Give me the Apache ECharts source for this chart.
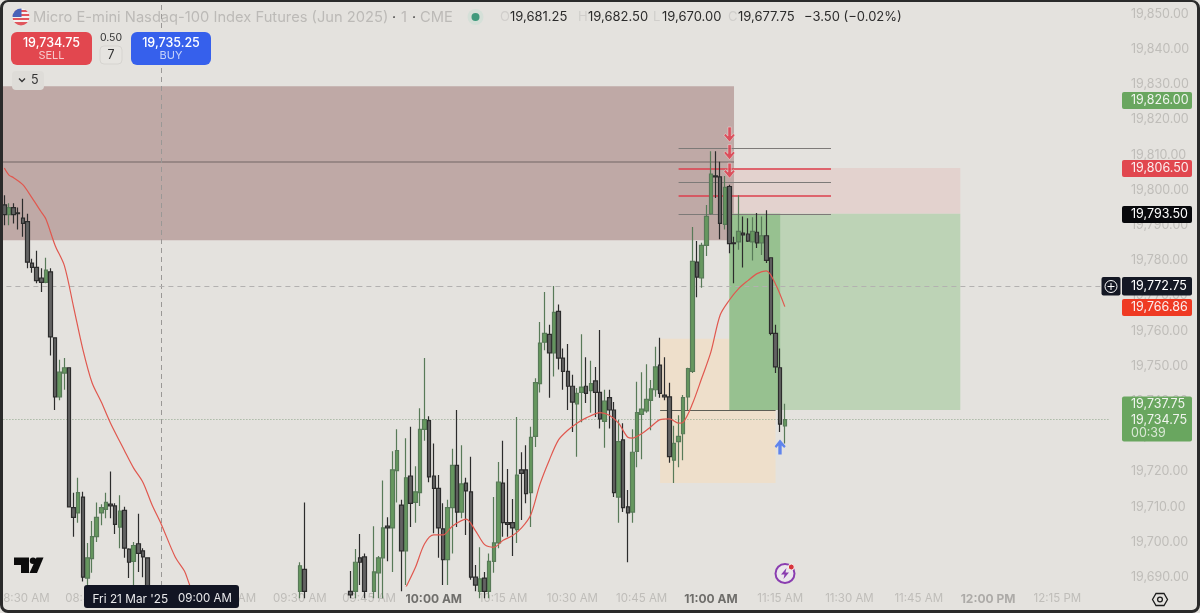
<!DOCTYPE html>
<html>
<head>
<meta charset="utf-8">
<title>MNQ 1m</title>
<script src="https://cdn.jsdelivr.net/npm/echarts@6/dist/echarts.min.js"></script>
<style>
  html, body { margin: 0; padding: 0; background: #000; }
  #chart { position: absolute; left: 0; top: 0; width: 1200px; height: 613px; }
  #frame { position: absolute; left: 0; top: 0; width: 1194px; height: 608px; border-style: solid; border-color: #2a2a2a; border-width: 2px 3px 3px 3px; border-radius: 8px; pointer-events: none; }
</style>
</head>
<body>
<div id="chart"></div>
<div id="frame"></div>
<script>
// tick labels
const tickIndex = [5, 20, 35, 50, 65, 80, 94, 109, 124, 139, 154, 169, 184, 199, 214, 229];
const tickLabels = ['08:30 AM', '08:45 AM', '09:00 AM', '09:15 AM', '09:30 AM', '09:45 AM', '10:00 AM', '10:15 AM', '10:30 AM', '10:45 AM', '11:00 AM', '11:15 AM', '11:30 AM', '11:45 AM', '12:00 PM', '12:15 PM'];
const priceTicks = [19690, 19700, 19710, 19720, 19730, 19740, 19750, 19760, 19770, 19780, 19790, 19800, 19810, 19820, 19830, 19840, 19850];

// candles, 10 per row. null = bar is below the visible range
const opens = [
  19795.75,19793,19795,19793.5,19792,19791,19779.25,19778,19775,19773.75,
  19776.75,19758,19741.25,19748,19749.5,19709.75,19708.25,19712.75,19689.75,19695.25,
  19701.5,19708.25,19709.25,19710.75,19710.25,19704.25,19709,19698,19694.5,19699.5,
  19697.5,19695.5,null,null,null,null,null,null,null,null,
  null,null,null,null,null,null,null,null,null,null,
  null,null,null,null,null,null,null,null,null,null,
  null,null,null,null,19686,19692.25,null,null,null,null,
  null,null,null,null,null,19686,19686,19695.5,19695.75,null,
  19686,19691.25,19695.5,19704.5,19704,19720.25,19710.5,19697.5,19718.75,19711.25,
  19714,19732,19734.5,19718.75,19715.25,19703.75,19695,19709.75,19721.75,19708.5,
  19716.75,19714.25,19690,19686,19689.75,19686,19694.5,19699.75,19716.75,19705.5,
  19705.5,19703.5,19720.5,19720.5,19714,19730,19745,19756.75,19759,19753.75,
  19765.5,19752.25,19748.5,19744.25,19739.25,19742.5,19744.25,19743,19745.75,19742.5,
  19734.25,19741,19737.5,19712.75,19729,19710,19708.5,19725.75,19736.25,19737.25,
  19740.25,19743.25,19750.25,19741.75,19741.25,19723.25,19728.5,19730.75,19741.25,19748.5,
  19779.5,19775,19784.25,19793.25,19804,19803.75,19790.25,19801,19785,19785.25,
  19787.75,19787.5,19785.25,19788,19785,19787,19780.75,19759.25,19749.5,19733
];
const closes = [
  19793,19795,19793,19793.25,19790.5,19779.5,19778,19774.25,19773.75,19777.25,
  19758.25,19741.25,19748.25,19749.5,19710,19707,19714,19690,19695.5,19701.5,
  19707,19709.75,19711.25,19710.25,19705,19708.75,19698.25,19694.25,19699,19696.75,
  19695.75,19686,null,null,null,null,null,null,null,null,
  null,null,null,null,null,null,null,null,null,null,
  null,null,null,null,null,null,null,null,null,null,
  null,null,null,null,19693.25,19686,null,null,null,null,
  null,null,null,null,null,19685,19694.25,19694.25,19686,null,
  19691.5,19695.5,19704,19704,19720.5,19726,19697.5,19718.25,19711,19714.25,
  19732,19734.75,19718.5,19715.25,19704,19695,19709.75,19721.75,19708.5,19716.5,
  19714.5,19690,19687.75,19689.5,19686,19694.5,19699.75,19717,19705.5,19705,
  19704,19719,19719.5,19713.75,19729.75,19745.25,19756.5,19759.25,19753.75,19765.25,
  19752.25,19748.5,19744.25,19739.75,19742.25,19744,19742.25,19745,19742.5,19735,
  19740,19737.5,19714,19728.5,19709.75,19708.25,19725.5,19736.75,19737.75,19740.5,
  19743.5,19749.75,19742.25,19741.25,19724.25,19728,19730,19741,19749.25,19779.75,
  19775.25,19784.25,19792.5,19804.5,19803.75,19790.5,19800.75,19784.75,19784.75,19788.25,
  19787.25,19785.5,19788.25,19785,19787,19780,19759.25,19749.75,19733.5,19734.75
];
const lows = [
  19790,19790,19790.5,19788.75,19786.75,19777.75,19776.5,19773.5,19771,19773.5,
  19753,19737.5,19740.25,19743.25,19710,19701.5,19705.5,19688.75,19686,19691.25,
  19700,19704.75,19706.75,19706.75,19702.25,19698.25,19695.5,19689.75,19686,19691.5,
  19690,19686,null,null,null,null,null,null,null,null,
  null,null,null,null,null,null,null,null,null,null,
  null,null,null,null,null,null,null,null,null,null,
  null,null,null,null,19684,19684,null,null,null,null,
  null,null,null,null,null,19684,19684,19687.75,19684,null,
  19684,19684,19684,19694.5,19691.5,19711.25,19686,19687.75,19704.25,19705.5,
  19710.25,19728.75,19717,19702.5,19695.5,19687.75,19687.75,19696.75,19704.25,19706.75,
  19702,19689.25,19686,19684,19684,19684,19691.25,19698.25,19701.5,19701.5,
  19696,19699.75,19706.25,19711,19704.25,19727,19742.5,19754.5,19741,19747,
  19749,19743.25,19737.5,19731.25,19724.25,19734,19739.5,19736.75,19735.5,19732.25,
  19726.75,19732.25,19712.75,19705.5,19708.5,19694.25,19705.5,19721.25,19723.5,19736.75,
  19731.75,19741.25,19741,19740.25,19722.5,19716.75,19721.25,19723.25,19737.5,19748,
  19769.5,19772.25,19781.25,19793,19797.75,19786,19788.75,19782,19773.5,19783,
  19778,19785.25,19780,19783.5,19781.5,19779.25,19758.75,19748,19731.25,19728
];
const highs = [
  19798.5,19796.25,19796.25,19795,19797.5,19793.25,19780.5,19782.75,19777.75,19780.75,
  19777.75,19758,19751.75,19752.25,19749.5,19714,19718.25,19714.25,19699.75,19706,
  19711.25,19710.75,19714,19720,19711,19713.25,19710,19698.25,19700,19708,
  19698.25,19695.5,null,null,null,null,null,null,null,null,
  null,null,null,null,null,null,null,null,null,null,
  null,null,null,null,null,null,null,null,null,null,
  null,null,null,null,19694.25,19711.25,null,null,null,null,
  null,null,null,null,null,19691.75,19698,19702.25,19696.75,null,
  19704.5,19696,19717.5,19707,19725.75,19732,19712,19729.5,19732.75,19721.5,
  19738,19752.25,19735.75,19728,19719,19711,19712,19726.5,19737.5,19727.5,
  19718.25,19724.25,19693.5,19698.5,19691.5,19696.75,19712.75,19722.75,19728.75,19720.75,
  19712.25,19735.5,19725.5,19727.5,19732.75,19746.5,19762.5,19771,19761.75,19772.75,
  19767.5,19755,19756.25,19747.5,19743.75,19759,19752.5,19751.5,19749.75,19760.25,
  19743.25,19743.25,19739.75,19734.75,19733.75,19714.75,19732,19745.5,19748.25,19750.5,
  19746,19755.5,19758,19752.5,19745.25,19733,19736,19741.75,19749.5,19789.5,
  19785.5,19785,19795.75,19811,19811,19808,19804,19801.5,19786.75,19798.5,
  19792.5,19792,19792.25,19793.5,19792.5,19794.25,19780.75,19761.75,19755,19739.25
];

// red moving average, chart index + price
const maIndex = [1, 2, 3, 5, 7, 9, 10, 12, 14, 16, 18, 20, 22, 24, 27, 29, 31, 33, 35, 38, 40, 41, 43,
  86, 88, 90, 92, 94, 96, 98, 101, 103, 105, 107, 109, 111, 113, 115, 117, 119, 121, 123, 125, 127, 130, 132, 134, 136, 137, 139, 141, 143, 145, 147, 148, 150, 152, 154, 156, 158, 160, 162, 164, 166, 168, 170];
const maValues = [19806.25, 19804.25, 19803.5, 19801.5, 19797.75, 19793.75, 19791.75, 19784.25, 19778.5, 19766.75, 19754.75, 19745.25, 19739.75, 19733.75, 19726, 19721, 19717, 19710.5, 19705, 19695.75, 19691.75, 19688.25, 19682,
  19682, 19687.25, 19692.75, 19699.5, 19702, 19702, 19704.5, 19706.5, 19703.25, 19699.25, 19698.5, 19700.5, 19701.75, 19704, 19707.75, 19716.5, 19723.25, 19729, 19731.75, 19733.75, 19735.25, 19736.75, 19736, 19733.75, 19729.75, 19729.5, 19730.75, 19732.75, 19734.75, 19735, 19733.75, 19734, 19739.25, 19746.5, 19754, 19764.5, 19768.75, 19772, 19774.25, 19776.25, 19777, 19773.25, 19766.86];

// price levels
const crossPrice = 19772.75;
const crossIndex = 35;
const lastPrice = 19734.75;
const shortLevelsGrey = [19811.75, 19802.25, 19793];
const shortLevelsRed = [19806, 19798.5];
const redArrowIndex = [158, 158, 158];
const redArrowPrice = [19815.75, 19810.75, 19805.5];
const blueArrowIndex = [169];
const blueArrowPrice = [19727];

const categories = [];
for (let i = 0; i < 241; i++) categories.push('');
tickIndex.forEach((n, i) => { categories[n] = tickLabels[i]; });

const candleData = [['-', '-', '-', '-']];
opens.forEach((o, i) => {
  candleData.push(o === null ? ['-', '-', '-', '-'] : [o, closes[i], lows[i], highs[i]]);
});

const font = 'Inter, "Liberation Sans", sans-serif';

// drawing helpers for the header and price tags
function box(x, y, w, h, fill, r) {
  return { type: 'rect', z: 100, silent: true, shape: { x: x, y: y, width: w, height: h, r: r || 0 }, style: { fill: fill } };
}
function txt(x, y, text, fill, size, align, weight) {
  return { type: 'text', z: 101, silent: true, x: x, y: y, style: { text: text, fill: fill, font: (weight || 'normal') + ' ' + size + 'px ' + font, textAlign: align || 'left', textVerticalAlign: 'middle' } };
}
function poly(points, fill, stroke, lw) {
  return { type: 'polygon', z: 101, silent: true, shape: { points: points }, style: { fill: fill || 'none', stroke: stroke || 'none', lineWidth: lw || 1 } };
}
function circ(x, y, r, fill, stroke, lw) {
  return { type: 'circle', z: 101, silent: true, shape: { cx: x, cy: y, r: r }, style: { fill: fill || 'none', stroke: stroke || 'none', lineWidth: lw || 1 } };
}
function seg(x1, y1, x2, y2, stroke, lw) {
  return { type: 'line', z: 102, silent: true, shape: { x1: x1, y1: y1, x2: x2, y2: y2 }, style: { stroke: stroke, lineWidth: lw || 1 } };
}

const flagSvg = '<svg xmlns="http://www.w3.org/2000/svg" width="18" height="18" viewBox="0 0 18 18"><clipPath id="c"><circle cx="9" cy="9" r="8.5"/></clipPath><g clip-path="url(#c)"><rect width="18" height="18" fill="#f4f2f0"/><rect y="2" width="18" height="2" fill="#e0565c"/><rect y="6" width="18" height="2" fill="#e0565c"/><rect y="10" width="18" height="2" fill="#e0565c"/><rect y="14" width="18" height="4" fill="#e0565c"/><rect width="9.5" height="9" fill="#4a62b8"/></g></svg>';

const graphics = [
  // top left legend
  { type: 'image', z: 101, silent: true, x: 12, y: 8, style: { image: 'data:image/svg+xml;utf8,' + encodeURIComponent(flagSvg), width: 18, height: 18 } },
  txt(33, 17.5, 'Micro E-mini Nasdaq-100 Index Futures (Jun 2025)', '#bcbab7', 14.7),
  txt(392, 17.5, '·', '#333333', 14), txt(401, 17.5, '1', '#bcbab7', 14.7),
  txt(412, 17.5, '·', '#333333', 14), txt(420, 17.5, 'CME', '#bcbab7', 14.7),
  circ(475.5, 17, 8, '#d5e0d8'), circ(475.5, 17, 4, '#3f9a7c'),
  txt(500, 17.5, 'O', '#d0cecb', 13), txt(510, 17.5, '19,681.25', '#2b2b2b', 13),
  txt(578, 17.5, 'H', '#d0cecb', 13), txt(588, 17.5, '19,682.50', '#2b2b2b', 13),
  txt(653, 17.5, 'L', '#d0cecb', 13), txt(662, 17.5, '19,670.00', '#2b2b2b', 13),
  txt(728, 17.5, 'C', '#d0cecb', 13), txt(738, 17.5, '19,677.75', '#2b2b2b', 13),
  txt(804, 17.5, '−3.50 (−0.02%)', '#2b2b2b', 13),
  // sell / buy
  box(11, 32, 81, 33, '#e2474f', 6),
  txt(51.5, 43, '19,734.75', '#ffffff', 12.5, 'center', '500'), txt(51.5, 56, 'SELL', '#f6c9cb', 11, 'center'),
  txt(111, 38, '0.50', '#333333', 10.5, 'center'),
  { type: 'rect', z: 100, silent: true, shape: { x: 100, y: 46, width: 22, height: 18, r: 4 }, style: { fill: '#e6e4e0', stroke: '#d6d4d0' } },
  txt(111, 55, '7', '#333333', 12.5, 'center'),
  box(131, 32, 80, 33, '#3660ec', 6),
  txt(171, 43, '19,735.25', '#ffffff', 12.5, 'center', '500'), txt(171, 56, 'BUY', '#c6d2fa', 11, 'center'),
  // collapse chip
  box(12, 71, 32, 19, '#dedcd8', 4),
  { type: 'polyline', z: 101, silent: true, shape: { points: [[19, 78.5], [22, 81.5], [25, 78.5]] }, style: { fill: 'none', stroke: '#333333', lineWidth: 1.3 } },
  txt(31, 80.5, '5', '#333333', 12.5),
  // right side price tags
  box(1122, 92, 70, 17, '#69a65f', 2), txt(1131, 100.5, '19,826.00', '#f0f4ee', 12.5),
  box(1122, 160, 70, 17, '#e1474f', 2), txt(1131, 168.5, '19,806.50', '#fbeeee', 12.5),
  box(1122, 206, 70, 17, '#08090c', 2), txt(1131, 214.5, '19,793.50', '#ffffff', 12.5),
  box(1101.5, 277, 19, 18.5, '#141824', 2), box(1122, 277, 70, 18.5, '#141824', 2),
  txt(1131, 286.5, '19,772.75', '#ffffff', 12.5),
  circ(1111, 286.5, 6, 'none', '#ffffff', 1), seg(1111, 283, 1111, 290, '#ffffff'), seg(1107.5, 286.5, 1114.5, 286.5, '#ffffff'),
  box(1122, 299, 70, 17, '#ef3a23', 2), txt(1131, 307.5, '19,766.86', '#fbeeee', 12.5),
  box(1122, 396.5, 70, 45, '#69a65f', 2),
  txt(1131, 404.5, '19,737.75', '#f0f4ee', 12.5), txt(1131, 420, '19,734.75', '#f0f4ee', 12.5), txt(1131, 433.5, '00:39', '#d9e8d5', 12.5),
  // crosshair time label
  box(84, 585, 155, 23, '#121523', 3),
  txt(92.5, 599, "Fri 21 Mar '25", '#e8e8ea', 11.8), txt(178, 599, '09:00 AM', '#e8e8ea', 11.5),
  // TradingView logo
  poly([[14, 557.5], [29, 557.5], [29, 573], [21, 573], [21, 565], [14, 565]], '#0c0c0c'),
  circ(33, 560.8, 3.2, '#0c0c0c'),
  poly([[36.5, 557.5], [43.5, 557.5], [37, 573], [29.5, 573]], '#0c0c0c'),
  // lightning badge
  circ(785, 573.5, 9.5, '#ebe7ec', '#8a3db0', 2),
  poly([[786.5, 568], [781, 574.5], [784.5, 574.5], [783.5, 579], [789, 572.5], [785.5, 572.5]], '#8a3db0'),
  circ(791.3, 567, 3, '#d8343c', '#f4f2f0', 1),
  // settings hexagon
  poly([[1152.5, 599.5], [1156, 593.5], [1164, 593.5], [1167.5, 599.5], [1164, 605.5], [1156, 605.5]], 'none', '#1c1c1c', 1.3),
  circ(1160, 599.5, 2.4, 'none', '#1c1c1c', 1.3)
];

// zones under the candles
const zones = [
  [{ xAxis: 0, yAxis: 19829.5, itemStyle: { color: '#bfa9a6' } }, { xAxis: 159, yAxis: 19785.75 }],
  [{ xAxis: 159, yAxis: 19806.25, itemStyle: { color: '#e3d2ce' } }, { xAxis: 208, yAxis: 19793.25 }],
  [{ xAxis: 143, yAxis: 19757.75, itemStyle: { color: '#eedfcb' } }, { xAxis: 168, yAxis: 19716.75 }],
  [{ xAxis: 158, yAxis: 19793.25, itemStyle: { color: '#bdd3b6' } }, { xAxis: 208, yAxis: 19737.5 }],
  [{ xAxis: 158, yAxis: 19793.25, itemStyle: { color: '#97c190' } }, { xAxis: 169, yAxis: 19737.5 }]
];

function levelLine(price, color, width) {
  return [
    { coord: [147, price], lineStyle: { color: color, width: width, type: 'solid' } },
    { coord: [180, price], lineStyle: { color: color, width: width, type: 'solid' } }
  ];
}
const levelLines = [];
shortLevelsGrey.forEach(p => levelLines.push(levelLine(p, '#7d7a78', 1.2)));
shortLevelsRed.forEach(p => levelLines.push(levelLine(p, '#dc3f4d', 1.5)));
// long grey line through the maroon zone and the line along the orange box
levelLines.push([{ coord: [0, 19808], lineStyle: { color: '#8b7c7a', width: 1.5, type: 'solid' } }, { coord: [159, 19808] }]);
levelLines.push([{ coord: [143, 19737.5], lineStyle: { color: '#5d5d55', width: 1.2, type: 'solid' } }, { coord: [168, 19737.5] }]);
// crosshair and last price
levelLines.push({ xAxis: crossIndex, lineStyle: { color: '#9a9896', width: 1, type: [5, 4] } });
levelLines.push({ yAxis: crossPrice, lineStyle: { color: '#b3b1b0', width: 1, type: [5, 4] } });
levelLines.push({ yAxis: lastPrice, lineStyle: { color: '#8fa58a', width: 1, type: [1, 2] } });

const arrowPath = 'path://M3.5 0h4v9l2.5-2.5 1.8 1.8L5.5 15 -1.3 8.3 .5 6.5 3.5 9z';

const chart = echarts.init(document.getElementById('chart'));
chart.setOption({
  animation: false,
  backgroundColor: '#e4e2de',
  grid: { left: -2.6, width: 1113, top: 3, bottom: 27, outerBoundsMode: 'none' },
  xAxis: {
    type: 'category',
    data: categories,
    boundaryGap: true,
    axisLine: { show: false },
    axisTick: { show: false },
    splitLine: { show: false },
    axisLabel: {
      interval: 0,
      margin: 7,
      hideOverlap: false,
      color: '#bfbdb9',
      fontFamily: font,
      fontSize: 11.5,
      formatter: function (v) {
        if (v === '10:00 AM' || v === '11:00 AM') return '{b|' + v + '}';
        if (v === '12:00 PM') return '{c|' + v + '}';
        return v;
      },
      rich: {
        b: { color: '#6f6e6b', fontWeight: 'bold', fontFamily: font, fontSize: 12 },
        c: { color: '#adaba8', fontWeight: 'bold', fontFamily: font, fontSize: 12 }
      }
    }
  },
  yAxis: {
    type: 'value',
    position: 'right',
    min: 19687.5,
    max: 19853.125,
    axisLine: { show: false },
    axisTick: { show: false },
    splitLine: { show: false },
    axisLabel: {
      customValues: priceTicks,
      margin: 20.5,
      padding: [4, 0, 0, 0],
      color: '#bfbdb9',
      fontFamily: font,
      fontSize: 12.5,
      formatter: v => v.toLocaleString('en-US', { minimumFractionDigits: 2 })
    }
  },
  series: [
    {
      type: 'candlestick',
      data: candleData,
      barWidth: 4,
      z: 3,
      itemStyle: {
        color: '#66985f',
        color0: '#636363',
        borderColor: '#587a58',
        borderColor0: '#2c2c2c',
        borderWidth: 1.2
      },
      markArea: { silent: true, data: zones },
      markLine: { silent: true, z: 1, symbol: 'none', label: { show: false }, data: levelLines }
    },
    {
      type: 'line',
      data: maIndex.map((n, i) => [n, maValues[i]]),
      showSymbol: false,
      smooth: 0.3,
      z: 4,
      lineStyle: { color: '#e0584f', width: 1.2 }
    },
    {
      type: 'scatter',
      data: redArrowIndex.map((n, i) => [n, redArrowPrice[i]]),
      symbol: arrowPath,
      symbolSize: [11, 15],
      z: 5,
      itemStyle: { color: '#e2384a', borderColor: '#efe6e2', borderWidth: 0.6 }
    },
    {
      type: 'scatter',
      data: blueArrowIndex.map((n, i) => [n, blueArrowPrice[i]]),
      symbol: arrowPath,
      symbolSize: [11, 15],
      symbolRotate: 180,
      z: 5,
      itemStyle: { color: '#3f6df0' }
    }
  ],
  graphic: { elements: graphics }
});
</script>
</body>
</html>
